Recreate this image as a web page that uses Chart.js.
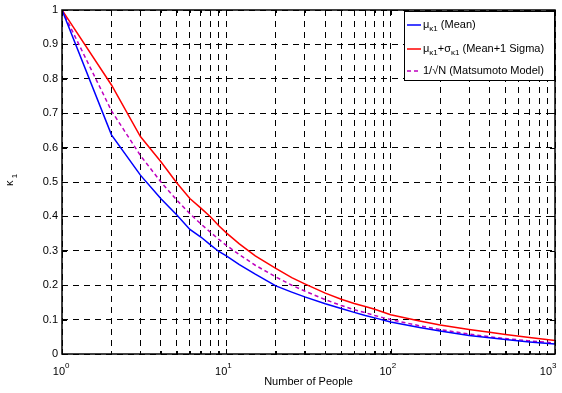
<!DOCTYPE html>
<html>
<head>
<meta charset="utf-8">
<script src="https://cdn.jsdelivr.net/npm/chart.js@4"></script>
<style>
  body { margin: 0; background: #fff; }
  canvas { display: block; }
</style>
</head>
<body>
<canvas id="chart" width="562" height="393"></canvas>
<script>
// data
const people = [1, 2, 3, 4, 5, 6, 7, 8, 9, 10, 12, 15, 20, 25, 30, 40, 50, 60, 70, 80, 100, 150, 200, 300, 400, 500, 700, 1000];
const meanK1 = [1, 0.637, 0.52, 0.451, 0.404, 0.362, 0.34, 0.317, 0.298, 0.285, 0.26, 0.232, 0.198, 0.18, 0.166, 0.146, 0.132, 0.121, 0.112, 0.105, 0.093, 0.077, 0.067, 0.054, 0.047, 0.042, 0.035, 0.029];
const meanPlusSigma = [1, 0.782, 0.632, 0.559, 0.497, 0.452, 0.424, 0.399, 0.373, 0.352, 0.32, 0.285, 0.249, 0.222, 0.204, 0.177, 0.159, 0.147, 0.138, 0.13, 0.114, 0.096, 0.084, 0.071, 0.063, 0.057, 0.048, 0.039];
const matsumoto = [1, 0.707, 0.577, 0.5, 0.447, 0.408, 0.378, 0.354, 0.333, 0.316, 0.289, 0.258, 0.224, 0.2, 0.183, 0.158, 0.141, 0.129, 0.12, 0.112, 0.1, 0.082, 0.071, 0.058, 0.05, 0.045, 0.038, 0.032];

const xGridValues = [1, 2, 3, 4, 5, 6, 7, 8, 9, 10, 20, 30, 40, 50, 60, 70, 80, 90, 100, 200, 300, 400, 500, 600, 700, 800, 900, 1000];
const xTickLabels = [{ v: 1, exp: '0' }, { v: 10, exp: '1' }, { v: 100, exp: '2' }, { v: 1000, exp: '3' }];
const yTickLabels = ['0', '0.1', '0.2', '0.3', '0.4', '0.5', '0.6', '0.7', '0.8', '0.9', '1'];

const FONT = '"Liberation Sans", Arial, sans-serif';

function toPoints(ys) {
    return people.map((n, i) => ({ x: n, y: ys[i] }));
}

// draw text pieces with sub/superscripts, returns end x
function drawRich(ctx, parts, x, y) {
    parts.forEach(p => {
        const size = p.sub || p.sup ? 8 : 11;
        ctx.font = size + 'px ' + FONT;
        let dy = 0;
        if (p.sub) dy = 4;
        if (p.sup) dy = -6;
        ctx.fillText(p.t, x, y + dy);
        x += ctx.measureText(p.t).width;
    });
    return x;
}

const decorPlugin = {
    id: 'decor',
    afterDraw(chart) {
        const ctx = chart.ctx;
        const area = chart.chartArea;
        const xs = chart.scales.x;
        const ys = chart.scales.y;
        ctx.save();

        // axes box
        ctx.strokeStyle = '#000';
        ctx.lineWidth = 1.5;
        ctx.strokeRect(area.left, area.top, area.right - area.left, area.bottom - area.top);

        // small inward ticks
        ctx.lineWidth = 1;
        ctx.beginPath();
        xGridValues.forEach(v => {
            const px = Math.round(xs.getPixelForValue(v)) + 0.5;
            const len = (v === 1 || v === 10 || v === 100 || v === 1000) ? 5 : 3;
            ctx.moveTo(px, area.bottom); ctx.lineTo(px, area.bottom - len);
            ctx.moveTo(px, area.top); ctx.lineTo(px, area.top + len);
        });
        yTickLabels.forEach(t => {
            const py = Math.round(ys.getPixelForValue(parseFloat(t))) + 0.5;
            ctx.moveTo(area.left, py); ctx.lineTo(area.left + 5, py);
            ctx.moveTo(area.right, py); ctx.lineTo(area.right - 5, py);
        });
        ctx.stroke();

        ctx.fillStyle = '#000';
        // y tick labels
        ctx.font = '11px ' + FONT;
        ctx.textAlign = 'right';
        ctx.textBaseline = 'middle';
        yTickLabels.forEach(t => {
            ctx.fillText(t, area.left - 4, ys.getPixelForValue(parseFloat(t)));
        });

        // x tick labels 10^n ("10" ends at the tick, exponent after it)
        ctx.textAlign = 'left';
        ctx.textBaseline = 'alphabetic';
        xTickLabels.forEach((t, i) => {
            const px = xs.getPixelForValue(t.v);
            ctx.font = '11px ' + FONT;
            const w = ctx.measureText('10').width;
            const shift = i === xTickLabels.length - 1 ? -3 : (i === 0 ? 3 : 1);
            ctx.fillText('10', px - w + shift, area.bottom + 21);
            ctx.font = '8px ' + FONT;
            ctx.fillText(t.exp, px + shift, area.bottom + 14);
        });

        // axis titles
        ctx.font = '11px ' + FONT;
        ctx.textAlign = 'center';
        ctx.fillText('Number of People', (area.left + area.right) / 2, area.bottom + 31);

        ctx.save();
        ctx.translate(13, 186);
        ctx.rotate(-Math.PI / 2);
        ctx.textAlign = 'left';
        drawRich(ctx, [{ t: 'κ' }, { t: ' 1', sub: true }], 0, 0);
        ctx.restore();

        // legend
        const lx = 404, ly = area.top + 1, lw = area.right - 1 - lx, lh = 69;
        ctx.fillStyle = '#fff';
        ctx.fillRect(lx, ly, lw, lh);
        ctx.strokeStyle = '#000';
        ctx.lineWidth = 1;
        ctx.strokeRect(lx + 0.5, ly + 0.5, lw, lh);

        const entries = [
            { y: 25, color: '#0000ff', dash: [], parts: [{ t: 'μ' }, { t: 'κ1', sub: true }, { t: ' (Mean)' }] },
            { y: 49, color: '#ff0000', dash: [], parts: [{ t: 'μ' }, { t: 'κ1', sub: true }, { t: '+σ' }, { t: 'κ1', sub: true }, { t: ' (Mean+1 Sigma)' }] },
            { y: 71, color: '#bf00bf', dash: [4, 3], parts: [{ t: '1/√N (Matsumoto Model)' }] }
        ];
        ctx.textAlign = 'left';
        ctx.textBaseline = 'middle';
        entries.forEach(e => {
            ctx.strokeStyle = e.color;
            ctx.lineWidth = 1.5;
            ctx.setLineDash(e.dash);
            ctx.beginPath();
            ctx.moveTo(lx + 3, e.y);
            ctx.lineTo(lx + 17, e.y);
            ctx.stroke();
            ctx.setLineDash([]);
            ctx.fillStyle = '#000';
            drawRich(ctx, e.parts, lx + 19, e.y);
        });

        ctx.restore();
    }
};

const ctx = document.getElementById('chart').getContext('2d');
const chart = new Chart(ctx, {
    type: 'line',
    data: {
        datasets: [
            { label: 'mean', data: toPoints(meanK1), borderColor: '#0000ff', borderWidth: 1.5, pointRadius: 0, tension: 0 },
            { label: 'mean+sigma', data: toPoints(meanPlusSigma), borderColor: '#ff0000', borderWidth: 1.5, pointRadius: 0, tension: 0 },
            { label: 'matsumoto', data: toPoints(matsumoto), borderColor: '#bf00bf', borderWidth: 1.5, borderDash: [4, 3], pointRadius: 0, tension: 0 }
        ]
    },
    options: {
        responsive: false,
        animation: false,
        events: [],
        layout: { padding: { left: 62, right: 7, top: 10, bottom: 39 } },
        plugins: { legend: { display: false }, tooltip: { enabled: false } },
        scales: {
            x: {
                type: 'logarithmic',
                min: 1,
                max: 1000,
                afterBuildTicks: scale => { scale.ticks = xGridValues.map(v => ({ value: v })); },
                ticks: { display: false },
                grid: { color: '#000', lineWidth: 1, drawTicks: false },
                border: { display: false, dash: [6, 5] }
            },
            y: {
                type: 'linear',
                min: 0,
                max: 1,
                ticks: { display: false, stepSize: 0.1 },
                grid: { color: '#000', lineWidth: 1, drawTicks: false },
                border: { display: false, dash: [6, 5] }
            }
        }
    },
    plugins: [decorPlugin]
});
</script>
</body>
</html>
